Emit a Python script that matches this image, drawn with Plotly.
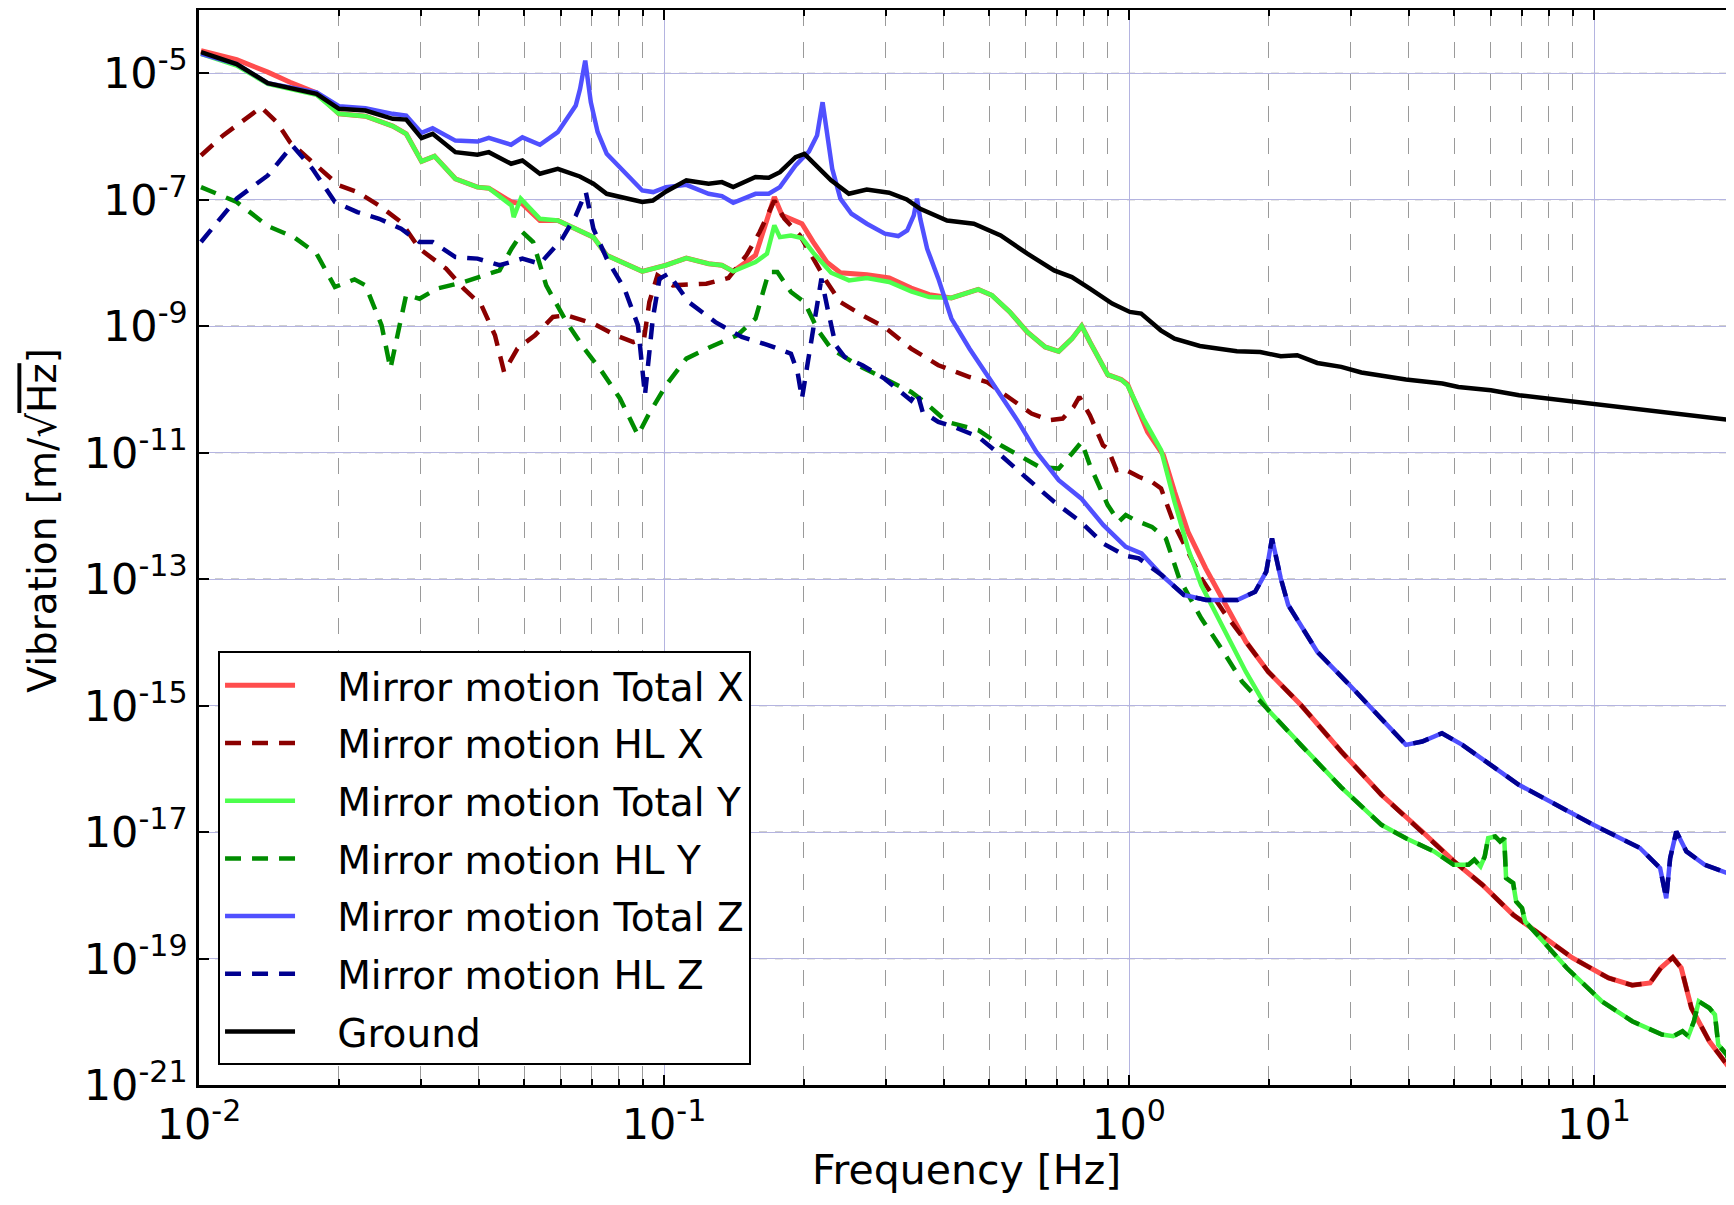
import math
import plotly.graph_objects as go

# ---- data (frequency in Hz, amplitude in m/sqrt(Hz)) ----

ground_f = [0.0101, 0.01205, 0.01406, 0.0179, 0.0200, 0.0228, 0.0261, 0.0279, 0.0301, 0.0318,
            0.0356, 0.0397, 0.0420, 0.0469, 0.0496, 0.0541, 0.0591, 0.0659, 0.0705, 0.0753,
            0.0898, 0.0946, 0.1011, 0.1117, 0.1247, 0.1332, 0.1409, 0.1573, 0.1680, 0.1775,
            0.1918, 0.2004, 0.2287, 0.2498, 0.2729, 0.3048, 0.3327, 0.3556, 0.4061, 0.4637,
            0.5297, 0.6045, 0.690, 0.7535, 0.824, 0.920, 1.004, 1.062, 1.17, 1.253,
            1.42, 1.706, 1.915, 2.12, 2.30, 2.54, 2.86, 3.16, 3.94, 4.72,
            5.11, 6.00, 6.90, 7.93, 9.98, 12.3, 15.0, 19.8]
ground_v = [2.15e-5, 1.40e-5, 6.95e-6, 4.72e-6, 2.74e-6, 2.57e-6, 1.90e-6, 1.85e-6, 9.4e-7, 1.10e-6,
            5.65e-7, 5.13e-7, 5.65e-7, 3.70e-7, 4.17e-7, 2.57e-7, 3.08e-7, 2.33e-7, 1.79e-7, 1.24e-7,
            9.2e-8, 9.7e-8, 1.35e-7, 2.02e-7, 1.79e-7, 1.90e-7, 1.58e-7, 2.28e-7, 2.22e-7, 2.73e-7,
            4.71e-7, 5.32e-7, 2.02e-7, 1.24e-7, 1.45e-7, 1.29e-7, 1.01e-7, 7.19e-8, 4.70e-8, 4.17e-8,
            2.72e-8, 1.40e-8, 7.63e-9, 5.99e-9, 3.92e-9, 2.27e-9, 1.68e-9, 1.58e-9, 8.6e-10, 6.35e-10,
            4.86e-10, 4.0e-10, 3.91e-10, 3.34e-10, 3.47e-10, 2.62e-10, 2.27e-10, 1.85e-10, 1.43e-10, 1.24e-10,
            1.09e-10, 9.7e-11, 8.1e-11, 7.2e-11, 5.8e-11, 4.98e-11, 4.15e-11, 3.26e-11]

# X direction
x_tot_f = [0.0101, 0.01205, 0.01406, 0.0157, 0.0179, 0.0200, 0.0228, 0.0261, 0.0279, 0.0301,
           0.0321, 0.0356, 0.0397, 0.0420, 0.0470, 0.0496, 0.0541, 0.0591, 0.0705, 0.0753,
           0.0898, 0.101, 0.1117, 0.1247, 0.1332, 0.1409, 0.1573, 0.1665, 0.1727, 0.1795,
           0.198, 0.2094, 0.2240, 0.2395, 0.273, 0.305, 0.340, 0.372, 0.415, 0.474,
           0.507, 0.554, 0.604, 0.660, 0.706, 0.754, 0.791, 0.824, 0.900, 0.962,
           0.993, 1.096, 1.186, 1.253, 1.339, 1.462, 1.597]
x_tot_v = [2.28e-5, 1.64e-5, 1.04e-5, 7.2e-6, 4.9e-6, 2.28e-6, 2.09e-6, 1.46e-6, 1.10e-6, 4.03e-7,
           4.89e-7, 2.14e-7, 1.58e-7, 1.52e-7, 9.2e-8, 8.6e-8, 4.7e-8, 4.70e-8, 2.56e-8, 1.32e-8,
           7.36e-9, 9.2e-9, 1.19e-8, 9.7e-9, 9.2e-9, 7.36e-9, 1.32e-8, 4.43e-8, 1.10e-7, 5.64e-8,
           4.17e-8, 2.14e-8, 1.03e-8, 7.0e-9, 6.5e-9, 5.78e-9, 4.0e-9, 3.15e-9, 2.79e-9, 3.82e-9,
           3.08e-9, 1.68e-9, 8.1e-10, 4.69e-10, 4.0e-10, 6.35e-10, 1.01e-9, 5.62e-10, 1.71e-10, 1.43e-10,
           1.2e-10, 2.13e-11, 9.1e-12, 2.40e-12, 5.6e-13, 1.48e-13, 4.4e-14]
x_hl_f = [0.0101, 0.01127, 0.01287, 0.01361, 0.0147, 0.0157, 0.01754, 0.0200, 0.0219, 0.0244,
          0.0272, 0.0298, 0.0340, 0.0371, 0.0405, 0.0433, 0.0453, 0.0484, 0.0528, 0.0577,
          0.0617, 0.0705, 0.0787, 0.0859, 0.0906, 0.0930, 0.0968, 0.1045, 0.1233, 0.1376,
          0.1504, 0.1606, 0.1727, 0.1815, 0.196, 0.2094, 0.2240, 0.2395, 0.267, 0.298,
          0.340, 0.389, 0.454, 0.495, 0.554, 0.617, 0.673, 0.72, 0.760, 0.782,
          0.824, 0.879, 0.900, 0.940, 0.971, 1.05, 1.12, 1.172, 1.253, 1.339,
          1.43, 1.597]
x_hl_v = [5.0e-7, 1.04e-6, 2.14e-6, 2.90e-6, 1.68e-6, 8.1e-7, 3.93e-7, 1.68e-7, 1.32e-7, 8.1e-8,
          4.43e-8, 1.68e-8, 8.1e-9, 3.92e-9, 2.14e-9, 7.2e-10, 1.89e-10, 4.42e-10, 7.2e-10, 1.40e-9,
          1.49e-9, 1.10e-9, 7.2e-10, 5.62e-10, 6.35e-10, 2.41e-9, 6.37e-9, 4.42e-9, 4.70e-9, 5.78e-9,
          1.32e-8, 3.08e-8, 9.7e-8, 5.0e-8, 2.72e-8, 1.17e-8, 4.99e-9, 2.41e-9, 1.49e-9, 9.7e-10,
          4.42e-10, 2.41e-10, 1.57e-10, 1.31e-10, 7.2e-11, 4.15e-11, 3.26e-11, 3.46e-11, 5.28e-11, 7.6e-11,
          3.9e-11, 1.31e-11, 1.16e-11, 5.28e-12, 5.6e-12, 4.15e-12, 3.46e-12, 2.72e-12, 7.15e-13, 2.71e-13,
          1.03e-13, 3.06e-14]
# above ~1.8 Hz the total and HL X curves coincide
x_tail_f = [1.783, 1.992, 2.34, 2.86, 3.49, 4.27, 5.0, 5.75, 6.7, 8.99,
            10.74, 12.08, 13.2, 13.92, 14.77, 15.4, 16.2, 17.7, 19.8]
x_tail_v = [1.03e-14, 3.44e-15, 1.03e-15, 1.88e-16, 3.88e-17, 1.02e-17, 3.44e-18, 1.47e-18, 4.93e-19, 1.02e-19,
            4.93e-20, 3.78e-20, 4.11e-20, 7.08e-20, 1.04e-19, 7.08e-20, 1.65e-20, 4.9e-21, 1.65e-21]

# Y direction
y_tot_f = [0.0101, 0.01205, 0.01406, 0.0179, 0.0200, 0.0228, 0.0261, 0.0279, 0.0301, 0.0321,
           0.0356, 0.0397, 0.0420, 0.0470, 0.0475, 0.0492, 0.0541, 0.0591, 0.0705, 0.0753,
           0.0898, 0.101, 0.1117, 0.1247, 0.1332, 0.1409, 0.1573, 0.1665, 0.1727, 0.1775,
           0.1875, 0.198, 0.2094, 0.2287, 0.250, 0.273, 0.305, 0.340, 0.372, 0.415,
           0.474, 0.507, 0.554, 0.604, 0.660, 0.706, 0.754, 0.791, 0.824, 0.900,
           0.962, 0.993, 1.074, 1.172, 1.253, 1.339, 1.43, 1.597, 1.783]
y_tot_v = [2.02e-5, 1.32e-5, 6.78e-6, 4.55e-6, 2.28e-6, 2.09e-6, 1.46e-6, 1.10e-6, 4.03e-7, 4.89e-7,
           2.14e-7, 1.58e-7, 1.52e-7, 8.1e-8, 5.3e-8, 1.04e-7, 5.0e-8, 4.70e-8, 2.56e-8, 1.32e-8,
           7.36e-9, 9.2e-9, 1.19e-8, 9.7e-9, 9.2e-9, 7.36e-9, 1.03e-8, 1.40e-8, 3.92e-8, 2.56e-8,
           2.72e-8, 2.47e-8, 1.45e-8, 7.0e-9, 5.3e-9, 5.78e-9, 4.99e-9, 3.56e-9, 2.89e-9, 2.79e-9,
           3.82e-9, 3.08e-9, 1.68e-9, 8.1e-10, 4.69e-10, 4.0e-10, 6.35e-10, 1.01e-9, 5.62e-10, 1.71e-10,
           1.43e-10, 1.16e-10, 3.46e-11, 1.1e-11, 1.67e-12, 3.06e-13, 8.05e-14, 1.67e-14, 3.44e-15]
y_hl_f = [0.0101, 0.01205, 0.01406, 0.0160, 0.0179, 0.0196, 0.0216, 0.0228, 0.0247, 0.0258,
          0.0270, 0.0279, 0.0298, 0.0325, 0.0371, 0.0415, 0.0443, 0.0470, 0.0496, 0.0523,
          0.0558, 0.0617, 0.0674, 0.0736, 0.0804, 0.0879, 0.0925, 0.101, 0.1117, 0.1258,
          0.1439, 0.1573, 0.168, 0.1753, 0.1875, 0.2004, 0.2144, 0.2287, 0.2612, 0.298,
          0.340, 0.363, 0.406, 0.474, 0.530, 0.641, 0.706, 0.754, 0.791, 0.824,
          0.900, 0.951, 0.984, 1.03, 1.12, 1.20, 1.282, 1.43, 1.58, 1.75]
y_hl_v = [1.58e-7, 9.2e-8, 3.83e-8, 2.56e-8, 1.40e-8, 4.16e-9, 5.5e-9, 4.42e-9, 1.03e-9, 2.13e-10,
          1.03e-9, 3.15e-9, 2.72e-9, 3.92e-9, 4.99e-9, 6.37e-9, 7.63e-9, 1.68e-8, 3.08e-8, 2.14e-8,
          4.42e-9, 1.16e-9, 4.42e-10, 1.89e-10, 7.2e-11, 1.89e-11, 3.91e-11, 1.16e-10, 3.07e-10, 4.69e-10,
          7.2e-10, 1.32e-9, 7.2e-9, 7.2e-9, 3.47e-9, 2.41e-9, 8.6e-10, 4.42e-10, 2.41e-10, 1.48e-10,
          9.1e-11, 6.35e-11, 3.07e-11, 2.27e-11, 1.31e-11, 5.96e-12, 5.6e-12, 9.7e-12, 1.48e-11, 6.3e-12,
          1.48e-12, 8.1e-13, 1.03e-12, 8.6e-13, 6.7e-13, 4.4e-13, 1.03e-13, 2.4e-14, 8.0e-15, 2.4e-15]
# above ~2 Hz the total and HL Y curves coincide
y_tail_f = [1.992, 2.34, 2.86, 3.49, 3.94, 4.53, 4.99, 5.37, 5.53, 5.70,
            5.82, 5.92, 6.13, 6.28, 6.41, 6.47, 6.70, 6.80, 7.0, 7.11,
            7.77, 8.74, 10.4, 12.08, 14.0, 14.8, 15.5, 15.95, 16.4, 16.8,
            17.7, 18.2, 18.5, 19.3, 19.8]
y_tail_v = [8.5e-16, 2.39e-16, 5.1e-17, 1.30e-17, 8.0e-18, 4.94e-18, 3.04e-18, 3.04e-18, 3.65e-18, 2.86e-18,
            4.11e-18, 8.0e-18, 8.5e-18, 7.1e-18, 8.0e-18, 1.87e-18, 1.56e-18, 8.0e-19, 6.28e-19, 3.87e-19,
            1.87e-19, 7.08e-20, 2.10e-20, 1.02e-20, 6.27e-21, 5.9e-21, 7.08e-21, 5.9e-21, 1.02e-20, 2.1e-20,
            1.65e-20, 1.29e-20, 4.35e-21, 3.0e-21, 1.86e-21]

# Z direction
z_tot_f = [0.0101, 0.01205, 0.01406, 0.0179, 0.0200, 0.0228, 0.0261, 0.0279, 0.0301, 0.0318,
           0.0356, 0.0397, 0.0420, 0.0469, 0.0496, 0.0541, 0.0591, 0.0617, 0.0646, 0.066,
           0.0677, 0.0696, 0.072, 0.0753, 0.0822, 0.0898, 0.0948, 0.101, 0.1117, 0.1247,
           0.1332, 0.1409, 0.1573, 0.168, 0.1775, 0.1918, 0.205, 0.2134, 0.2193, 0.224,
           0.230, 0.2395, 0.253, 0.273, 0.2985, 0.319, 0.3334, 0.3445, 0.350, 0.3557,
           0.368, 0.389, 0.415, 0.454, 0.507, 0.578, 0.632, 0.706, 0.789, 0.881,
           0.984, 1.064]
z_tot_v = [2.02e-5, 1.40e-5, 6.95e-6, 5.0e-6, 3.01e-6, 2.80e-6, 2.28e-6, 2.14e-6, 1.14e-6, 1.35e-6,
           8.6e-7, 8.3e-7, 9.5e-7, 7.4e-7, 9.7e-7, 7.4e-7, 1.17e-6, 1.90e-6, 3.08e-6, 5.66e-6,
           1.58e-5, 3.48e-6, 1.17e-6, 5.32e-7, 2.73e-7, 1.40e-7, 1.32e-7, 1.58e-7, 1.72e-7, 1.24e-7,
           1.14e-7, 8.95e-8, 1.24e-7, 1.24e-7, 1.58e-7, 3.47e-7, 5.79e-7, 1.04e-6, 3.48e-6, 1.04e-6,
           3.08e-7, 1.04e-7, 6.0e-8, 4.17e-8, 2.90e-8, 2.66e-8, 3.27e-8, 5.64e-8, 1.04e-7, 5.0e-8,
           1.68e-8, 5.64e-9, 1.32e-9, 4.4e-10, 1.31e-10, 3.07e-11, 1.03e-11, 3.67e-12, 1.89e-12, 7.15e-13,
           3.25e-13, 2.55e-13]
z_hl_f = [0.0101, 0.01205, 0.01406, 0.01588, 0.01754, 0.0196, 0.0219, 0.0244, 0.0272, 0.0298,
          0.0318, 0.0356, 0.0397, 0.0443, 0.0496, 0.0541, 0.0604, 0.0646, 0.0679, 0.0705,
          0.0753, 0.0822, 0.0879, 0.0910, 0.0946, 0.0978, 0.1022, 0.113, 0.129, 0.147,
          0.168, 0.1875, 0.1937, 0.198, 0.2039, 0.2118, 0.218, 0.2248, 0.234, 0.2445,
          0.267, 0.298, 0.340, 0.350, 0.360, 0.389, 0.425, 0.474, 0.530, 0.604,
          0.690, 0.787, 0.879, 0.982, 1.05]
z_hl_v = [2.14e-8, 1.04e-7, 2.42e-7, 7.2e-7, 3.08e-7, 9.2e-8, 6.37e-8, 5.0e-8, 3.47e-8, 2.14e-8,
          2.14e-8, 1.24e-8, 1.17e-8, 9.2e-9, 1.17e-8, 9.7e-9, 2.41e-8, 5.6e-8, 1.32e-7, 3.47e-8,
          1.17e-8, 3.92e-9, 1.03e-9, 8.1e-11, 1.32e-9, 5.64e-9, 6.76e-9, 2.41e-9, 1.16e-9, 6.74e-10,
          4.99e-10, 3.68e-10, 1.89e-10, 7.2e-11, 2.72e-10, 1.68e-9, 5.64e-9, 1.89e-9, 4.99e-10, 3.26e-10,
          2.41e-10, 1.48e-10, 6.7e-11, 9.1e-11, 4.4e-11, 3.07e-11, 2.47e-11, 1.78e-11, 9.1e-12, 3.90e-12,
          1.67e-12, 8.1e-13, 3.67e-13, 2.34e-13, 2.13e-13]
# above ~1.2 Hz the total and HL Z curves coincide
z_tail_f = [1.175, 1.312, 1.465, 1.71, 1.867, 1.973, 2.03, 2.12, 2.20, 2.54,
            2.98, 3.49, 3.94, 4.27, 4.71, 5.21, 6.89, 9.97, 12.55, 13.87,
            14.3, 14.58, 15.03, 15.8, 17.3, 19.8]
z_tail_v = [1.16e-13, 5.6e-14, 4.67e-14, 4.67e-14, 6.3e-14, 1.31e-13, 4.4e-13, 1.03e-13, 3.89e-14, 7.1e-15,
            2.12e-15, 6.3e-16, 2.39e-16, 2.70e-16, 3.66e-16, 2.39e-16, 5.6e-17, 1.30e-17, 5.6e-18, 2.69e-18,
            9.0e-19, 3.87e-18, 1.02e-17, 4.94e-18, 3.04e-18, 2.11e-18]

x_major = [1e-2, 1e-1, 1e0, 1e1]
x_major_text = ["10<sup>-2</sup>", "10<sup>-1</sup>", "10<sup>0</sup>", "10<sup>1</sup>"]
x_minor = [m * d for d in (0.01, 0.1, 1.0) for m in range(2, 10)]
y_major = [1e-5, 1e-7, 1e-9, 1e-11, 1e-13, 1e-15, 1e-17, 1e-19, 1e-21]
y_major_text = ["10<sup>%d</sup>" % e for e in (-5, -7, -9, -11, -13, -15, -17, -19, -21)]

pad = "\u00a0\u00a0\u00a0"  # gap between legend sample and label
series = [
    ("Mirror motion Total X", x_tot_f + x_tail_f, x_tot_v + x_tail_v, "#ff4d4d", "solid", 5),
    ("Mirror motion HL X", x_hl_f + x_tail_f, x_hl_v + x_tail_v, "#8b0000", "16px,11px", 4.5),
    ("Mirror motion Total Y", y_tot_f + y_tail_f, y_tot_v + y_tail_v, "#4dff4d", "solid", 4.5),
    ("Mirror motion HL Y", y_hl_f + y_tail_f, y_hl_v + y_tail_v, "#008c00", "16px,11px", 4.5),
    ("Mirror motion Total Z", z_tot_f + z_tail_f, z_tot_v + z_tail_v, "#5050ff", "solid", 4.5),
    ("Mirror motion HL Z", z_hl_f + z_tail_f, z_hl_v + z_tail_v, "#000090", "16px,11px", 4.5),
    ("Ground", ground_f, ground_v, "black", "solid", 4.5),
]

fig = go.Figure()

for name, f, v, color, dash, width in series:
    fig.add_trace(go.Scatter(x=f, y=v, mode="lines", name=pad + name, legendgroup=name,
                             line=dict(color=color, dash=dash, width=width)))

# grey dashes over the lavender horizontal grid lines (matplotlib look)
for yv in y_major[:-1]:
    fig.add_shape(type="line", xref="paper", x0=0, x1=1, yref="y", y0=yv, y1=yv,
                  layer="below", line=dict(color="#a0a0a0", width=1.2, dash="8px,8px"))

fig.update_xaxes(type="log", range=[-2, math.log10(20)], automargin=False,
                 tickvals=x_major, ticktext=x_major_text,
                 ticks="inside", ticklen=10, tickwidth=1.5, tickcolor="black",
                 tickfont=dict(size=43),
                 showline=True, linecolor="black", linewidth=2.5, mirror="allticks",
                 showgrid=True, gridcolor="#b4b4e0", gridwidth=1.3, zeroline=False,
                 minor=dict(tickvals=x_minor, ticks="inside", ticklen=6, tickcolor="black",
                            showgrid=True, gridcolor="#9a9a9a", griddash="16px,16px", gridwidth=1.2))
fig.update_yaxes(type="log", range=[-21, -4], automargin=False,
                 tickvals=y_major, ticktext=y_major_text,
                 ticks="inside", ticklen=10, tickwidth=1.5, tickcolor="black",
                 tickfont=dict(size=43),
                 showline=True, linecolor="black", linewidth=2.5,
                 showgrid=True, gridcolor="#b4b4e0", gridwidth=1.3, zeroline=False)

# the page body adds an 8px offset, so the figure is 8px smaller than the window
fig.update_layout(
    width=1726, height=1197,
    margin=dict(l=191, r=0, t=2, b=120),
    plot_bgcolor="white", paper_bgcolor="white",
    font=dict(family="DejaVu Sans", color="black"),
    showlegend=True,
    legend=dict(x=0.0124, y=0.4033, xanchor="left", yanchor="top",
                bgcolor="white", bordercolor="black", borderwidth=2,
                font=dict(size=39), itemwidth=70, tracegroupgap=4),
    annotations=[
        dict(text="Frequency [Hz]", xref="paper", yref="paper", x=0.5, y=-0.079,
             xanchor="center", yanchor="middle", showarrow=False, font=dict(size=41)),
        dict(text="Vibration [m/\u221a<span style='text-decoration:overline'>Hz</span>]",
             xref="paper", yref="paper", x=-0.1016, y=0.525, textangle=-90,
             xanchor="center", yanchor="middle", showarrow=False, font=dict(size=39)),
    ],
)

fig.write_html("out.html")
